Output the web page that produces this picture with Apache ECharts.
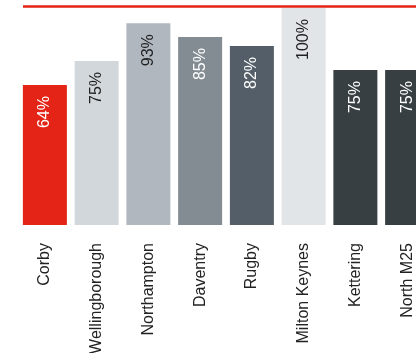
<!DOCTYPE html>
<html>
<head>
<meta charset="utf-8">
<style>html,body{margin:0;padding:0;background:#fff;}#c{width:416px;height:353px;}</style>
<script src="https://cdn.jsdelivr.net/npm/echarts@6/dist/echarts.min.js"></script>
</head>
<body>
<div id="c"></div>
<script>
var categories = ["Corby", "Wellingborough", "Northampton", "Daventry", "Rugby", "Milton Keynes", "Kettering", "North M25"];
var values = [64.5, 75.6, 93, 86.6, 82.5, 100, 71.4, 71.4];
var valueLabels = ["64%", "75%", "93%", "85%", "82%", "100%", "75%", "75%"];
var barColors = ["#E32416", "#D2D7DB", "#B0B7BF", "#838B93", "#535E69", "#E2E5E8", "#383F42", "#383F42"];
var labelColors = ["#ffffff", "#222222", "#222222", "#ffffff", "#ffffff", "#222222", "#ffffff", "#ffffff"];

var chart = echarts.init(document.getElementById('c'));
chart.setOption({
  animation: false,
  grid: { left: 19, top: 8, width: 414, bottom: 128, containLabel: false, outerBoundsMode: 'none' },
  graphic: [{
    type: 'line', shape: { x1: 23, y1: 6.5, x2: 416, y2: 6.5 },
    style: { stroke: '#E52313', lineWidth: 2.5 }, silent: true
  }],
  xAxis: {
    type: 'category', data: categories,
    axisLine: { show: false }, axisTick: { show: false },
    axisLabel: {
      rotate: 90, interval: 0, margin: 18, fontSize: 16,
      fontFamily: 'Liberation Sans, Arial, sans-serif', color: '#222'
    }
  },
  yAxis: { type: 'value', min: 0, max: 100, show: false, splitLine: { show: false } },
  series: [{
    type: 'bar', barWidth: 44,
    data: values.map(function (v, i) {
      return {
        value: v,
        itemStyle: { color: barColors[i] },
        label: { color: labelColors[i] }
      };
    }),
    label: {
      show: true, position: 'insideTop', rotate: 90, distance: 11,
      align: 'right', verticalAlign: 'middle', fontSize: 16,
      fontFamily: 'Liberation Sans, Arial, sans-serif',
      formatter: function (p) { return valueLabels[p.dataIndex]; }
    }
  }]
});
</script>
</body>
</html>
